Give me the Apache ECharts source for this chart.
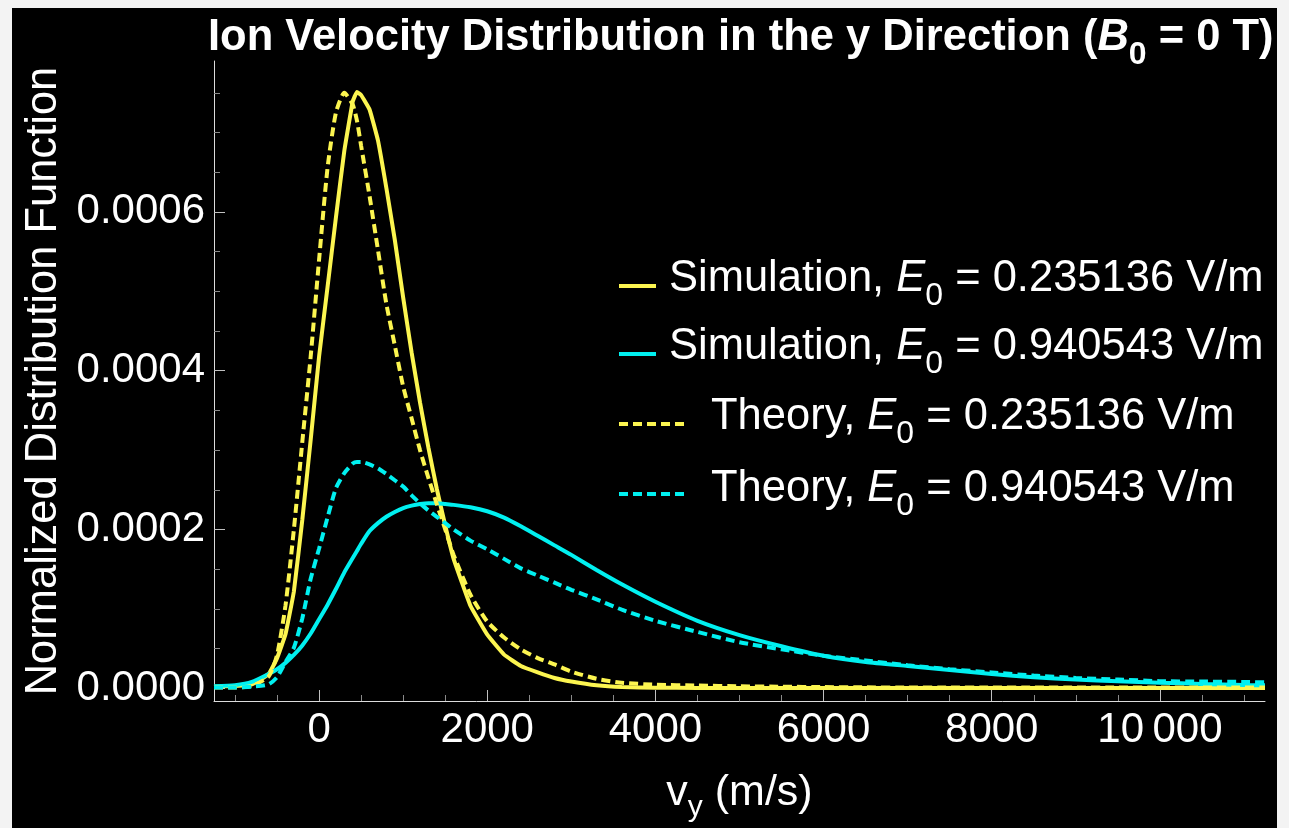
<!DOCTYPE html>
<html>
<head>
<meta charset="utf-8">
<script src="https://cdn.jsdelivr.net/npm/echarts@6/dist/echarts.min.js"></script>
<style>
  html, body { margin: 0; padding: 0; background: #f3f3f3; }
  #frame { position: absolute; left: 12px; top: 8px; width: 1265px; height: 820px; background: #000; }
  #chart { position: absolute; left: 0; top: 0; width: 1289px; height: 828px; }
</style>
</head>
<body>
<div id="frame"></div>
<div id="chart"></div>
<script>
// ---- data ----
const vy = [-1250, -1000, -800, -600, -500, -400, -300, -200, -100, 0, 100, 200, 300, 400, 450, 500,
  600, 700, 800, 900, 1000, 1100, 1200, 1300, 1400, 1500, 1600, 1800, 2000, 2200, 2400, 2600, 2800,
  3000, 3300, 3600, 4000, 4500, 5000, 5500, 6000, 6500, 7000, 7500, 8000, 8500, 9000, 9500, 10000,
  10500, 11000, 11250];

const simLow = [0.0000020, 0.0000030, 0.0000050, 0.0000180, 0.0000380, 0.0000680, 0.000122, 0.000212,
  0.000313, 0.000418, 0.000505, 0.000593, 0.000677, 0.000739, 0.000751, 0.000747, 0.000729, 0.000690,
  0.000630, 0.000565, 0.000492, 0.000423, 0.000360, 0.000303, 0.000251, 0.000205, 0.000163, 0.000104,
  0.0000675, 0.0000424, 0.0000280, 0.0000200, 0.0000130, 0.0000085, 0.0000037, 0.0000015, 0.0000008,
  0.0000005, 0.0000003, 0.0000003, 0.0000003, 0.0000003, 0.0000003, 0.0000003, 0.0000003, 0.0000003,
  0.0000003, 0.0000003, 0.0000003, 0.0000003, 0.0000003, 0.0000003];

const simHigh = [0.0000025, 0.0000040, 0.0000080, 0.0000180, 0.0000240, 0.0000320, 0.0000420, 0.0000540,
  0.0000690, 0.0000870, 0.000105, 0.000125, 0.000146, 0.000164, 0.000173, 0.000182, 0.000198, 0.000208,
  0.000216, 0.000222, 0.000227, 0.000230, 0.000232, 0.000233, 0.000233, 0.000232, 0.000231, 0.000228,
  0.000223, 0.000215, 0.000204, 0.000192, 0.000180, 0.000168, 0.000149, 0.000131, 0.000109, 0.0000850,
  0.0000670, 0.0000530, 0.0000410, 0.0000330, 0.0000280, 0.0000230, 0.0000180, 0.0000140, 0.0000110,
  0.0000090, 0.0000070, 0.0000055, 0.0000042, 0.0000037];

const theoryLow = [0.0000010, 0.0000010, 0.0000030, 0.0000150, 0.0000420, 0.000104, 0.000200, 0.000310,
  0.000418, 0.000540, 0.000655, 0.000725, 0.000750, 0.000735, 0.000715, 0.000683, 0.000620, 0.000552,
  0.000484, 0.000432, 0.000380, 0.000340, 0.000300, 0.000265, 0.000232, 0.000200, 0.000168, 0.000118,
  0.0000840, 0.0000640, 0.0000490, 0.0000380, 0.0000300, 0.0000210, 0.0000120, 0.0000070, 0.0000045,
  0.0000035, 0.0000025, 0.0000020, 0.0000015, 0.0000012, 0.0000010, 0.0000010, 0.0000010, 0.0000010,
  0.0000010, 0.0000010, 0.0000010, 0.0000010, 0.0000010, 0.0000010];

const theoryHigh = [0.0000010, 0.0000010, 0.0000020, 0.0000050, 0.0000140, 0.0000330, 0.0000510, 0.0000880,
  0.000138, 0.000176, 0.000215, 0.000252, 0.000271, 0.000283, 0.000285, 0.000285, 0.000282, 0.000277,
  0.000270, 0.000262, 0.000254, 0.000243, 0.000233, 0.000224, 0.000216, 0.000208, 0.000200, 0.000186,
  0.000175, 0.000163, 0.000151, 0.000142, 0.000133, 0.000124, 0.000112, 0.0000990, 0.0000850, 0.0000710,
  0.0000580, 0.0000490, 0.0000410, 0.0000350, 0.0000290, 0.0000240, 0.0000200, 0.0000160, 0.0000130,
  0.0000110, 0.0000090, 0.0000085, 0.0000080, 0.0000075];

const seriesKinds = ['Simulation', 'Simulation', 'Theory', 'Theory'];
const fieldValues = ['0.235136', '0.940543', '0.235136', '0.940543'];
const seriesNames = seriesKinds.map((k, i) => k + ', E0 = ' + fieldValues[i] + ' V/m');

const xTickValues = [0, 2000, 4000, 6000, 8000, 10000];
const xTickLabels = ['0', '2000', '4000', '6000', '8000', '10\u2009000'];
const yTickValues = [0, 0.0002, 0.0004, 0.0006];
const yTickLabels = ['0.0000', '0.0002', '0.0004', '0.0006'];

const titleText = 'Ion Velocity Distribution in the y Direction (';
const yAxisTitle = 'Normalized Distribution Function';

// ---- chart ----
const FONT = '"Liberation Sans", Arial, Helvetica, sans-serif';
const X_MIN = -1250, X_MAX = 11250, Y_MIN = -0.000016, Y_MAX = 0.00079;
const YELLOW = '#fcf550', CYAN = '#00f0f0';
const LW = 4;

const xMinor = [];
for (let v = -1000; v <= 11000; v += 500) if (v % 2000 !== 0) xMinor.push(v);
const yMinor = [];
for (let k = 1; k <= 15; k++) if (k % 4 !== 0) yMinor.push(+(k * 0.00005).toFixed(6));

function pairs(ys) { return vy.map((x, i) => [x, ys[i]]); }

const chart = echarts.init(document.getElementById('chart'));

function legendFor(i, top, padLeft, padBottom, itemWidth) {
  return {
    show: true,
    data: [seriesNames[i]],
    orient: 'vertical',
    left: 617,
    top: top,
    padding: 0,
    itemWidth: itemWidth,
    itemHeight: 14,
    itemGap: 0,
    selectedMode: false,
    itemStyle: { opacity: 0 },
    lineStyle: { width: LW },
    formatter: function () {
      return '{n|' + seriesKinds[i] + ', }{i|E}{s|0}{n| = ' + fieldValues[i] + ' V/m}';
    },
    textStyle: {
      color: '#ffffff',
      fontFamily: FONT,
      fontSize: 43.5,
      padding: [0, 0, padBottom, padLeft],
      rich: {
        n: { color: '#ffffff', fontFamily: FONT, fontSize: 43.5 },
        i: { color: '#ffffff', fontFamily: FONT, fontSize: 43.5, fontStyle: 'italic' },
        s: { color: '#ffffff', fontFamily: FONT, fontSize: 32, padding: [35, 0, 0, 0] }
      }
    }
  };
}

const noZero = { show: false, onZero: false };

const option = {
  backgroundColor: 'transparent',
  animation: false,
  title: {
    text: '{b|' + titleText + '}{bi|B}{bs|0}{b| = 0 T)}',
    left: 208,
    top: 4,
    padding: 0,
    textStyle: {
      color: '#ffffff',
      fontFamily: FONT,
      fontSize: 43.5,
      fontWeight: 'bold',
      rich: {
        b: { color: '#ffffff', fontFamily: FONT, fontSize: 43.5, fontWeight: 'bold' },
        bi: { color: '#ffffff', fontFamily: FONT, fontSize: 43.5, fontWeight: 'bold', fontStyle: 'italic' },
        bs: { color: '#ffffff', fontFamily: FONT, fontSize: 32, fontWeight: 'bold', padding: [35, 0, 0, 0] }
      }
    }
  },
  legend: [
    legendFor(0, 257, 8, 14, 37),
    legendFor(1, 325, 8, 14, 37),
    legendFor(2, 395, 19, 14, 68),
    legendFor(3, 467, 19, 10, 68)
  ],
  grid: { left: 214, right: 24, top: 61, bottom: 118, containLabel: false },
  xAxis: [
    {
      type: 'value', min: X_MIN, max: X_MAX, position: 'bottom',
      name: '{n|v}{s|y}{n| (m/s)}',
      nameLocation: 'middle',
      nameGap: 62,
      nameTextStyle: {
        color: '#ffffff', fontFamily: FONT, fontSize: 43,
        rich: {
          n: { color: '#ffffff', fontFamily: FONT, fontSize: 43 },
          s: { color: '#ffffff', fontFamily: FONT, fontSize: 30, padding: [30, 0, 0, 0] }
        }
      },
      axisLine: { show: true, onZero: false, lineStyle: { color: '#dcdcdc', width: 1 } },
      axisTick: { show: true, inside: true, length: 11, customValues: xTickValues, lineStyle: { color: '#c0c0c0', width: 1 } },
      axisLabel: {
        show: true, customValues: xTickValues, margin: 8,
        color: '#ffffff', fontFamily: FONT, fontSize: 42,
        formatter: v => xTickLabels[xTickValues.indexOf(v)]
      },
      splitLine: { show: false }
    },
    {
      type: 'value', min: X_MIN, max: X_MAX, position: 'bottom', gridIndex: 0,
      axisLine: noZero,
      axisTick: { show: true, inside: true, length: 6, customValues: xMinor, lineStyle: { color: '#8a8a8a', width: 1 } },
      axisLabel: { show: false },
      splitLine: { show: false }
    }
  ],
  yAxis: [
    {
      type: 'value', min: Y_MIN, max: Y_MAX, position: 'left',
      name: yAxisTitle,
      nameLocation: 'middle',
      nameRotate: 90,
      nameGap: 148,
      nameTextStyle: { color: '#ffffff', fontFamily: FONT, fontSize: 43.5 },
      axisLine: { show: true, onZero: false, lineStyle: { color: '#dcdcdc', width: 1 } },
      axisTick: { show: true, inside: true, length: 11, customValues: yTickValues, lineStyle: { color: '#c0c0c0', width: 1 } },
      axisLabel: {
        show: true, customValues: yTickValues, margin: 9,
        color: '#ffffff', fontFamily: FONT, fontSize: 42,
        formatter: v => yTickLabels[yTickValues.indexOf(v)]
      },
      splitLine: { show: false }
    },
    {
      type: 'value', min: Y_MIN, max: Y_MAX, position: 'left', gridIndex: 0,
      axisLine: noZero,
      axisTick: { show: true, inside: true, length: 6, customValues: yMinor, lineStyle: { color: '#8a8a8a', width: 1 } },
      axisLabel: { show: false },
      splitLine: { show: false }
    }
  ],
  series: [
    { name: seriesNames[0], type: 'line', data: pairs(simLow), showSymbol: false, symbol: 'none', z: 2,
      smooth: 0.1,
      lineStyle: { color: YELLOW, width: LW }, itemStyle: { color: YELLOW } },
    { name: seriesNames[1], type: 'line', data: pairs(simHigh), showSymbol: false, symbol: 'none', z: 2,
      smooth: 0.2,
      lineStyle: { color: CYAN, width: LW }, itemStyle: { color: CYAN } },
    { name: seriesNames[2], type: 'line', data: pairs(theoryLow), showSymbol: false, symbol: 'none', z: 3,
      smooth: 0.2,
      lineStyle: { color: YELLOW, width: LW, type: [9, 5] }, itemStyle: { color: YELLOW } },
    { name: seriesNames[3], type: 'line', data: pairs(theoryHigh), showSymbol: false, symbol: 'none', z: 3,
      smooth: 0.2,
      lineStyle: { color: CYAN, width: LW, type: [9, 5] }, itemStyle: { color: CYAN } }
  ]
};
chart.setOption(option);
</script>
</body>
</html>
